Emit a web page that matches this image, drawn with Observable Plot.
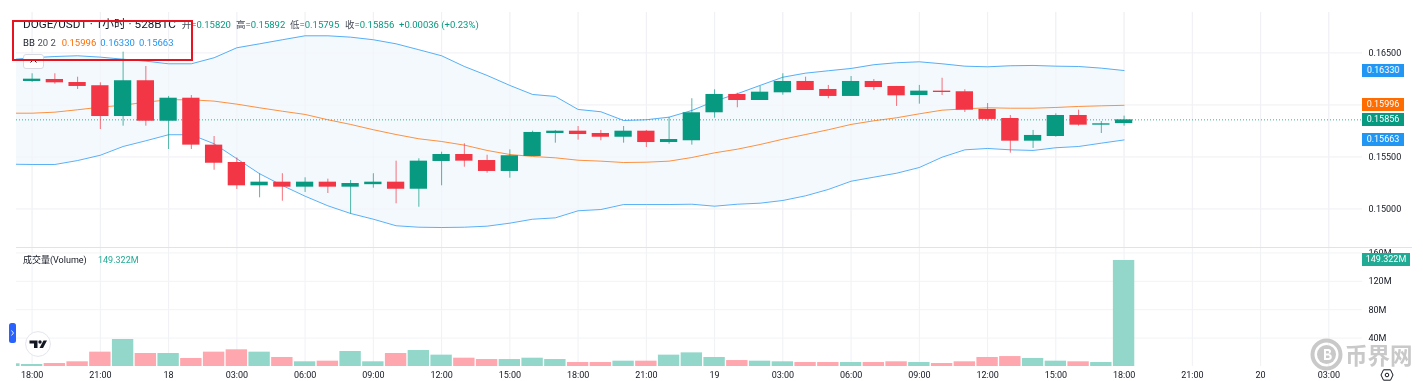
<!DOCTYPE html>
<html>
<head>
<meta charset="utf-8">
<script src="https://cdn.jsdelivr.net/npm/d3@7"></script>
<script src="https://cdn.jsdelivr.net/npm/@observablehq/plot@0.6"></script>
<style>
html,body{margin:0;padding:0;background:#fff;overflow:hidden}
#root{position:relative;width:1423px;height:381px;font-family:Roboto,"Noto Sans CJK SC",sans-serif;overflow:hidden;color:#131722;filter:blur(.3px)}
#root svg.plot-panel{position:absolute;left:0;display:block;background:transparent}
.lbl{position:absolute;white-space:nowrap;line-height:1}
.tag{position:absolute;left:1362px;width:42px;height:13px;line-height:13px;color:#fff;font-size:9px;text-align:center}
</style>
</head>
<body>
<div id="root"></div>
<script>
// Hour index 0 = 18:00 on the 17th; candles are hourly, in 1e-5 price units
const opens  = [16225,16244,16215,16184,15888,16232,15843,16064,15613,15446,15222,15257,15209,15257,15209,15233,15257,15189,15456,15523,15465,15360,15504,15725,15747,15725,15689,15747,15638,15655,15924,16100,16042,16116,16225,16148,16081,16225,16177,16090,16132,16126,15956,15869,15651,15696,15898,15805,15820];
const highs  = [16299,16299,16266,16212,16507,16369,16081,16090,15696,15491,15338,15338,15299,15286,15273,15338,15459,15482,15545,15626,15516,15568,15747,15754,15792,15754,15792,15754,15879,16059,16145,16112,16177,16299,16266,16187,16273,16244,16177,16187,16256,16145,16013,15898,15754,15914,15949,15840,15892];
const lows   = [16215,16199,16148,15763,15795,15795,15571,15571,15372,15187,15107,15074,15158,15148,14949,15199,15049,15016,15222,15401,15343,15295,15504,15632,15661,15655,15632,15590,15622,15613,15872,15972,16042,16093,16138,16059,16081,16138,15985,16007,16090,15927,15843,15536,15581,15689,15795,15725,15795];
const closes = [16247,16212,16177,15888,16232,15843,16064,15613,15439,15222,15257,15209,15257,15209,15244,15257,15189,15459,15523,15459,15360,15511,15735,15747,15715,15689,15747,15638,15667,15924,16100,16042,16122,16225,16138,16081,16225,16167,16087,16132,16119,15949,15860,15651,15706,15898,15805,15818,15856];
// Bollinger bands, first value is the hour before index 0 (cut by the left edge)
const bbUpper = [16434,16453,16465,16472,16459,16439,16420,16395,16395,16453,16549,16587,16626,16664,16664,16651,16626,16587,16530,16472,16369,16283,16187,16100,16081,15956,15934,15850,15857,15882,15946,16036,16107,16187,16266,16305,16328,16350,16386,16405,16414,16395,16372,16366,16376,16379,16372,16369,16353,16330];
const bbMid   = [15920,15920,15930,15953,15978,15997,16026,16049,16049,16036,16007,15972,15939,15908,15857,15812,15761,15715,15674,15648,15613,15562,15523,15504,15491,15468,15459,15446,15449,15459,15494,15539,15574,15619,15670,15715,15761,15812,15847,15876,15914,15949,15962,15972,15968,15968,15975,15985,15991,15996];
const bbLower = [15430,15427,15427,15465,15516,15600,15655,15713,15713,15626,15482,15338,15225,15122,15030,14956,14901,14838,14824,14821,14824,14834,14863,14901,14914,14982,14994,15042,15042,15042,15045,15026,15045,15055,15081,15126,15187,15266,15305,15343,15398,15497,15568,15581,15568,15562,15588,15600,15632,15663];
// Volume in millions, first value is the hour before index 0
const volumes = [3.8,2.8,4.2,6.6,20.2,38,18.3,18.3,11.3,20.2,23.5,20.2,12.7,6.6,7.5,21.1,6.6,18.3,22.5,16,11.7,9.8,9.8,11.7,9.8,5.6,5.6,7.5,7.5,16,19.2,12.7,8.4,7.5,6.6,5.6,5.6,5.6,5.6,6.6,5.6,4.2,6.6,12.7,14,11.3,7.5,6.6,5.6,149.322];

const xTickHours  = [0,3,6,9,12,15,18,21,24,27,30,33,36,39,42,45,48,51,54,57];
const xTickLabels = ["18:00","21:00","18","03:00","06:00","09:00","12:00","15:00","18:00","21:00","19","03:00","06:00","09:00","12:00","15:00","18:00","21:00","20","03:00"];
const priceTicks  = [0.165,0.16,0.155,0.15];
const volumeTicks = [40,80,120,160];
const lastValues  = {upper:0.1633,mid:0.15996,close:0.15856,lower:0.15663,volume:149.322};

const UP="#089981", DOWN="#f23645", BLUE="#2196f3", ORANGE="#ff6d00", GRID="#f2f3f6", VGRID="#eff1f4";
const X_DOMAIN=[-0.686,58.48];
const FONT='Roboto,"Noto Sans CJK SC",sans-serif';
const px=v=>v/1e5;

const candles = opens.map((o,i)=>({i,o:px(o),h:px(highs[i]),l:px(lows[i]),c:px(closes[i]),up:closes[i]>=o}));
const bands = bbUpper.map((u,k)=>({i:k-1,u:px(u),m:px(bbMid[k]),d:px(bbLower[k])}));
const vols = volumes.map((v,k)=>({i:k-1,v,up:k===0||candles[k-1].up}));

const pricePlot = Plot.plot({
  width:1423,height:247,marginTop:12,marginBottom:0,marginLeft:16,marginRight:61,
  style:{background:"transparent",fontFamily:FONT,fontSize:"9px",color:"#131722"},
  x:{domain:X_DOMAIN,axis:null},
  y:{domain:[0.14629,0.16888],axis:null},
  marks:[
    Plot.gridX(xTickHours,{stroke:VGRID,strokeOpacity:1}),
    Plot.gridY(priceTicks,{stroke:GRID,strokeOpacity:1}),
    Plot.areaY(bands,{x:"i",y1:"d",y2:"u",fill:"#f4f9fe",clip:true}),
    Plot.gridX(xTickHours,{stroke:VGRID,strokeOpacity:.55}),
    Plot.gridY(priceTicks,{stroke:GRID,strokeOpacity:.55}),
    Plot.ruleY([lastValues.close],{stroke:UP,strokeDasharray:"1,2",strokeWidth:1,strokeOpacity:.8}),
    Plot.line(bands,{x:"i",y:"u",stroke:BLUE,strokeWidth:1,strokeOpacity:.75,clip:true}),
    Plot.line(bands,{x:"i",y:"m",stroke:ORANGE,strokeWidth:1,strokeOpacity:.75,clip:true}),
    Plot.line(bands,{x:"i",y:"d",stroke:BLUE,strokeWidth:1,strokeOpacity:.75,clip:true}),
    Plot.ruleX(candles,{x:"i",y1:"l",y2:"h",stroke:d=>d.up?UP:DOWN,strokeWidth:1,strokeOpacity:.7}),
    Plot.rect(candles,{x1:d=>d.i-0.38,x2:d=>d.i+0.38,y1:"o",y2:"c",fill:d=>d.up?UP:DOWN}),
    Plot.axisY(priceTicks,{anchor:"right",tickSize:0,tickPadding:6,tickFormat:d3.format(".5f"),fill:"#131722",fontSize:9,label:null})
  ]
});

const volPlot = Plot.plot({
  width:1423,height:133,marginTop:0,marginBottom:15,marginLeft:16,marginRight:61,
  style:{background:"transparent",fontFamily:FONT,fontSize:"9px",color:"#131722"},
  x:{domain:X_DOMAIN,axis:null},
  y:{domain:[0,166.2],axis:null},
  marks:[
    Plot.gridX(xTickHours,{stroke:VGRID,strokeOpacity:1}),
    Plot.gridY(volumeTicks,{stroke:GRID,strokeOpacity:1}),
    Plot.rect(vols,{x1:d=>d.i-0.47,x2:d=>d.i+0.47,y1:0,y2:"v",fill:d=>d.up?"#92d7ca":"#ffa7ae",clip:true}),
    Plot.axisY(volumeTicks,{anchor:"right",tickSize:0,tickPadding:6,tickFormat:d=>d+"M",fill:"#131722",fontSize:9,label:null}),
    Plot.axisX(xTickHours,{anchor:"bottom",tickSize:0,tickPadding:5,tickFormat:d=>xTickLabels[xTickHours.indexOf(d)],fill:"#131722",fontSize:9,label:null})
  ]
});

const root=document.getElementById("root");
pricePlot.classList.add("plot-panel"); pricePlot.style.top="0px";
volPlot.classList.add("plot-panel"); volPlot.style.top="248px";
root.append(pricePlot,volPlot);

function label(text,x,cy,size,color,extra){
  const e=document.createElement("div");e.className="lbl";e.textContent=text;
  e.style.cssText+=`left:${x}px;top:${cy-size/2}px;font-size:${size}px;color:${color};${extra||""}`;
  root.append(e);return e;
}
function box(css,html){const e=document.createElement("div");e.style.cssText="position:absolute;"+css;if(html)e.innerHTML=html;root.append(e);return e;}

// Separator
box("left:16px;top:247px;width:1396px;height:1px;background:#e0e3eb");

// Header lines
label("DOGE/USDT · 1小时 · 528BTC",23,25,11.7,"#131722");
const ohlcNames=["开=","高=","低=","收="], ohlcVals=["0.15820","0.15892","0.15795","0.15856"], ohlcX=[181.7,236,290,345];
ohlcNames.forEach((n,k)=>{
  const e=label(n,ohlcX[k],25,9.5,"#4a4e59");
  const s=document.createElement("span");s.textContent=ohlcVals[k];s.style.color=UP;e.append(s);
});
label("+0.00036 (+0.23%)",399,25,9.5,UP);
label("BB",23,43,9.5,"#131722");
label("20 2",37.5,43,9.5,"#4a4e59");
label("0.15996",61.7,43,9.5,ORANGE);
label("0.16330",100.3,43,9.5,BLUE);
label("0.15663",139,43,9.5,BLUE);
label("成交量(Volume)",23,260.7,9,"#131722");
label("149.322M",98,260.7,9,"#22ab94");

// Last-value tags on the price scale, placed through the scales
const yP=pricePlot.scale("y"), yV=volPlot.scale("y");
const fmt=d3.format(".5f");
[[lastValues.upper,BLUE],[lastValues.mid,ORANGE],[lastValues.close,UP],[lastValues.lower,BLUE]].forEach(([v,c])=>{
  const e=document.createElement("div");e.className="tag";e.textContent=fmt(v);
  e.style.background=c;e.style.top=(yP.apply(v)-6.5)+"px";root.append(e);
});
const vt=document.createElement("div");vt.className="tag";vt.textContent=lastValues.volume+"M";
vt.style.cssText+=`background:#22ab94;width:48px;top:${248+yV.apply(lastValues.volume)-6.5}px`;root.append(vt);

// Collapse button
box("left:23px;top:54px;width:21px;height:15px;border:1px solid #d8dbe3;border-radius:3px;box-sizing:border-box;background:#fff",
 '<svg width="19" height="13" style="display:block"><path d="M6.5 7.5L9.5 4.5L12.5 7.5" fill="none" stroke="#131722" stroke-width="1"/></svg>');

// Red highlight rectangle
box("left:12px;top:20px;width:181px;height:40.5px;border:2px solid #e8131f;box-sizing:border-box");

// Side handle
box("left:9px;top:323px;width:7px;height:20px;background:#2962ff;border-radius:2.5px",
 '<svg width="7" height="20" style="display:block"><path d="M2.5 7.5L4.5 10L2.5 12.5" fill="none" stroke="#fff" stroke-width=".9"/></svg>');

// Logo circle
box("left:24.5px;top:331px;width:26px;height:26px",
 '<svg width="26" height="26" style="display:block"><circle cx="13" cy="13" r="12.4" fill="#fff" stroke="#e3e5ec"/><path d="M4.5 9.5H12.5V17H9V12.5H4.5Z" fill="#131722"/><circle cx="15" cy="11" r="1.7" fill="#131722"/><path d="M18.5 9.5H22L18 17H14.5Z" fill="#131722"/></svg>');

// Settings icon
box("left:1380px;top:368px;width:14px;height:14px",
 '<svg width="14" height="14" style="display:block"><path d="M3.5 1.8H10.5L13 7L10.5 12.2H3.5L1 7Z" fill="none" stroke="#131722" stroke-width="1"/><circle cx="7" cy="7" r="1.8" fill="none" stroke="#131722" stroke-width="1"/></svg>');

// Watermark
box("left:1310px;top:338px;width:33px;height:33px",
 '<svg width="33" height="33" style="display:block"><circle cx="16.5" cy="16.5" r="14" fill="none" stroke="#c9c9c9" stroke-width="4"/><circle cx="16.5" cy="16.5" r="9.5" fill="#c9c9c9"/><path d="M14 11H18.5Q21 11 21 13.6Q21 16 18.5 16Q21.8 16 21.8 19Q21.8 22 18.5 22H14Z M16 13V15.4H18Q19 15.4 19 14.2Q19 13 18 13Z M16 17.5V20H18.4Q19.6 20 19.6 18.7Q19.6 17.5 18.4 17.5Z" fill="#fff" fill-rule="evenodd"/></svg>');
label("币界网",1345,354.5,22.5,"#c9c9c9","font-weight:700;font-family:'Noto Sans CJK SC',sans-serif;");
</script>
</body>
</html>
